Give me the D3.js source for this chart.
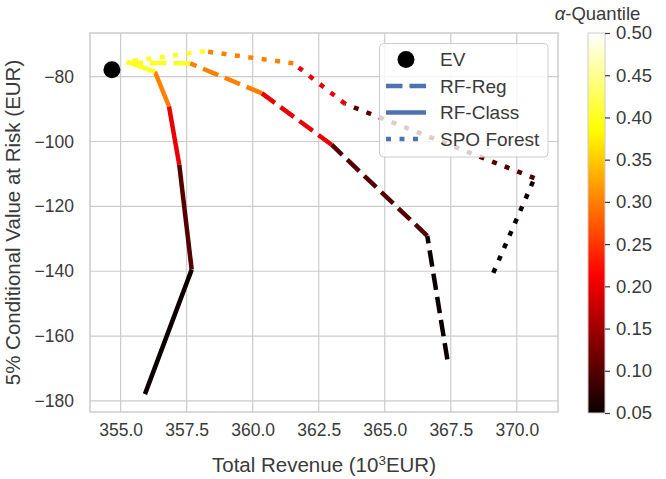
<!DOCTYPE html>
<html><head><meta charset="utf-8">
<script src="https://cdn.jsdelivr.net/npm/d3@7"></script>
<style>body{margin:0;background:#fff}svg{display:block}text{font-family:"Liberation Sans",Arial,sans-serif;fill:#3a3a3a}</style>
</head><body><svg id="c" width="666" height="479"></svg>
<script>
const quantiles = [0.05, 0.1, 0.2, 0.3, 0.4, 0.5];
const rfRegRevenue = [367.37, 366.61, 362.99, 360.34, 357.63, 355.23];
const rfRegCVaR = [-167.2, -129.1, -101.0, -85.1, -75.9, -75.7];
const rfClassRevenue = [355.92, 357.69, 357.22, 356.83, 356.30, 355.23];
const rfClassCVaR = [-177.9, -139.5, -107.2, -89.2, -78.5, -75.4];
const spoRevenue = [369.11, 370.67, 363.5, 361.54, 358.19, 355.23];
const spoCVaR = [-140.5, -111.3, -88.4, -75.9, -72.2, -75.4];
const evRevenue = [354.67];
const evCVaR = [-77.9];
const xTicks = [355.0, 357.5, 360.0, 362.5, 365.0, 367.5, 370.0];
const yTicks = [-180, -160, -140, -120, -100, -80];
const cbTicks = [0.05, 0.10, 0.15, 0.20, 0.25, 0.30, 0.35, 0.40, 0.45, 0.50];
const legendLabels = ["EV", "RF-Reg", "RF-Class", "SPO Forest"];

function hot(t){
  const cl=v=>Math.max(0,Math.min(1,v));
  const r = t<0.365079 ? 0.0416+(1-0.0416)*t/0.365079 : 1;
  const g = cl((t-0.365079)/(0.746032-0.365079));
  const b = cl((t-0.746032)/(1-0.746032));
  return d3.rgb(r*255,g*255,b*255).formatHex();
}

const svg = d3.select("#c");
const L=90,R=558,T=33,B=412;
const x = d3.scaleLinear().domain([353.84, 371.56]).range([L,R]);
const y = d3.scaleLinear().domain([-183.4, -66.55]).range([B,T]);
const cq = d3.scaleLinear().domain([0.05,0.5]).range([0,1]);
const fsTick = 17.5, fsLab = 20.5, fsLeg = 19, fsCb = 18.5;
const FONT = "Liberation Sans, Arial, sans-serif";

svg.append("g").selectAll("line").data(xTicks).join("line")
  .attr("x1",d=>x(d)).attr("x2",d=>x(d)).attr("y1",T).attr("y2",B)
  .attr("stroke","#cccccc").attr("stroke-width",1.2);
svg.append("g").selectAll("line").data(yTicks).join("line")
  .attr("y1",d=>y(d)).attr("y2",d=>y(d)).attr("x1",L).attr("x2",R)
  .attr("stroke","#cccccc").attr("stroke-width",1.2);

const fmtMinus = v => (v<0?"\u2212":"")+Math.abs(v);
const xa = svg.append("g").attr("transform",`translate(0,${B})`)
  .call(d3.axisBottom(x).tickValues(xTicks).tickFormat(d3.format(".1f")).tickSize(0).tickPadding(12));
const ya = svg.append("g").attr("transform",`translate(${L},0)`)
  .call(d3.axisLeft(y).tickValues(yTicks).tickFormat(fmtMinus).tickSize(0).tickPadding(16));
[xa,ya].forEach(a=>{a.select(".domain").remove();a.selectAll("text").attr("font-size",fsTick).attr("font-family",FONT).attr("fill","#3a3a3a");});
svg.append("rect").attr("x",L).attr("y",T).attr("width",R-L).attr("height",B-T)
  .attr("fill","none").attr("stroke","#cccccc").attr("stroke-width",1.5);

const lw=4.5;
function drawSeries(xs, ys, dash){
  const g = svg.append("g");
  for(let i=0;i<xs.length-1;i++){
    g.append("line").attr("x1",x(xs[i])).attr("y1",y(ys[i])).attr("x2",x(xs[i+1])).attr("y2",y(ys[i+1]))
      .attr("stroke",hot(cq(quantiles[i]))).attr("stroke-width",lw)
      .attr("stroke-dasharray",dash).attr("stroke-linecap","butt");
  }
}
drawSeries(rfRegRevenue, rfRegCVaR, "16.5,7");
drawSeries(rfClassRevenue, rfClassCVaR, null);
drawSeries(spoRevenue, spoCVaR, "5,8.5");

svg.append("g").selectAll("circle").data(evRevenue).join("circle")
  .attr("cx",d=>x(d)).attr("cy",(d,i)=>y(evCVaR[i])).attr("r",8.5).attr("fill","#000");

svg.append("text").attr("x",(L+R)/2).attr("y",472).attr("text-anchor","middle").attr("font-size",fsLab)
  .html('Total Revenue (10<tspan baseline-shift="super" font-size="13.5">3</tspan>EUR)');
svg.append("text").attr("transform",`translate(20,${(T+B)/2}) rotate(-90)`).attr("text-anchor","middle").attr("font-size",fsLab)
  .text("5% Conditional Value at Risk (EUR)");

const lg = svg.append("g");
lg.append("rect").attr("x",379.5).attr("y",43.5).attr("width",168.5).attr("height",113.5).attr("rx",4)
  .attr("fill","#fff").attr("fill-opacity",0.8).attr("stroke","#cccccc").attr("stroke-width",1);
const rowY = [59.5, 86, 112.5, 139];
const styles = [null, "16.5,7", null, "5,8.5"];
legendLabels.forEach((lab,i)=>{
  if(i===0){
    lg.append("circle").attr("cx",406).attr("cy",rowY[i]).attr("r",8.5).attr("fill","#000");
  } else {
    lg.append("line").attr("x1",386).attr("x2",426).attr("y1",rowY[i]).attr("y2",rowY[i])
      .attr("stroke","#4c72b0").attr("stroke-width",lw).attr("stroke-dasharray",styles[i]);
  }
  lg.append("text").attr("x",440).attr("y",rowY[i]).attr("dy","0.36em").attr("font-size",fsLeg).text(lab);
});

const CL=588, CR=605, CT=33, CB=413;
const defs = svg.append("defs");
const grad = defs.append("linearGradient").attr("id","hotg").attr("x1",0).attr("y1",1).attr("x2",0).attr("y2",0);
d3.range(0,1.0001,0.02).forEach(t=>grad.append("stop").attr("offset",t).attr("stop-color",hot(t)));
svg.append("rect").attr("x",CL).attr("y",CT).attr("width",CR-CL).attr("height",CB-CT).attr("fill","url(#hotg)")
  .attr("stroke","#cccccc").attr("stroke-width",1);
const cy = d3.scaleLinear().domain([0.05,0.5]).range([CB,CT]);
const ca = svg.append("g").attr("transform",`translate(${CR},0)`)
  .call(d3.axisRight(cy).tickValues(cbTicks).tickFormat(d3.format(".2f")).tickSize(5).tickPadding(6));
ca.select(".domain").remove();
ca.selectAll("line").attr("stroke","#3a3a3a").attr("stroke-width",1.2);
ca.selectAll("text").attr("font-size",fsCb).attr("font-family",FONT).attr("fill","#3a3a3a");
svg.append("text").attr("x",(CL+CR)/2+1).attr("y",20).attr("text-anchor","middle").attr("font-size",18.5)
  .html('<tspan font-style="italic">α</tspan>-Quantile');
</script></body></html>
